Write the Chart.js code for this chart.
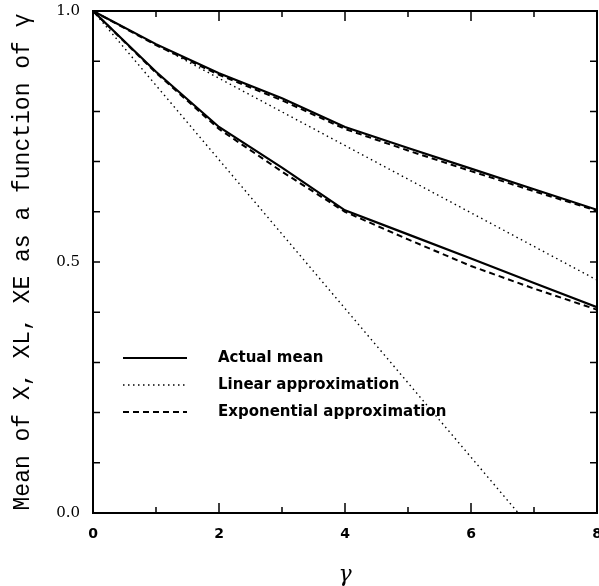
<!DOCTYPE html>
<html lang="en">
<head>
    <meta charset="UTF-8">
    <title>Mean of X, XL, XE</title>
    <script src="https://cdn.jsdelivr.net/npm/chart.js"></script>
    <style>
        body { margin: 0; background: #fff; }
        #wrap { width: 599px; height: 586px; }
    </style>
</head>
<body>
    <div id="wrap"><canvas id="meanChart"></canvas></div>
    <script>
        // values
        var gamma = [0, 1, 2, 3, 4, 5, 6, 7, 8];
        var upperActual = [1, 0.934, 0.876, 0.826, 0.769, 0.727, 0.686, 0.645, 0.604];
        var upperExp    = [1, 0.932, 0.873, 0.822, 0.765, 0.722, 0.681, 0.641, 0.602];
        var lowerActual = [1, 0.879, 0.769, 0.688, 0.603, 0.555, 0.507, 0.458, 0.410];
        var lowerExp    = [1, 0.877, 0.765, 0.680, 0.600, 0.545, 0.492, 0.447, 0.405];
        // straight lines: only their end points
        var upperLinX = [0, 8];
        var upperLinY = [1, 0.464];
        var lowerLinX = [0, 6.75];
        var lowerLinY = [1, 0];

        var legendLabels = ['Actual mean', 'Linear approximation', 'Exponential approximation'];

        function pts(xs, ys) {
            return xs.map(function (v, i) { return { x: v, y: ys[i] }; });
        }

        var solid = { borderColor: '#000', borderWidth: 2.2, borderDash: [] };
        var dotted = { borderColor: '#000', borderWidth: 1.4, borderDash: [1.5, 3.5] };
        var dashed = { borderColor: '#000', borderWidth: 2, borderDash: [6, 4] };

        function ds(data, style) {
            return Object.assign({ data: data, showLine: true, pointRadius: 0, tension: 0, fill: false }, style);
        }

        // frame, inward tick marks and the in-plot legend
        var framePlugin = {
            id: 'frame',
            afterDatasetsDraw: function (chart) {
                var ctx = chart.ctx, a = chart.chartArea;
                var x = chart.scales.x, y = chart.scales.y;
                ctx.save();
                ctx.strokeStyle = '#000';
                ctx.setLineDash([]);
                ctx.lineWidth = 2;
                ctx.strokeRect(a.left, a.top, a.right - a.left, a.bottom - a.top);

                ctx.lineWidth = 1.5;
                ctx.beginPath();
                x.ticks.forEach(function (t) {
                    var px = x.getPixelForValue(t.value);
                    var len = t.value % 2 === 0 ? 10 : 6;
                    ctx.moveTo(px, a.bottom); ctx.lineTo(px, a.bottom - len);
                    ctx.moveTo(px, a.top); ctx.lineTo(px, a.top + len);
                });
                y.ticks.forEach(function (t) {
                    var py = y.getPixelForValue(t.value);
                    ctx.moveTo(a.left, py); ctx.lineTo(a.left + 7, py);
                    ctx.moveTo(a.right, py); ctx.lineTo(a.right - 7, py);
                });
                ctx.stroke();

                // legend, styles taken from the datasets
                var rows = [358, 385, 412];
                var sets = chart.data.datasets;
                ctx.font = 'bold 15px "DejaVu Sans"';
                ctx.fillStyle = '#000';
                ctx.textBaseline = 'middle';
                legendLabels.forEach(function (lab, i) {
                    var d = sets[i * 2];
                    ctx.lineWidth = d.borderWidth;
                    ctx.setLineDash(d.borderDash);
                    ctx.beginPath();
                    ctx.moveTo(123, rows[i]);
                    ctx.lineTo(187, rows[i]);
                    ctx.stroke();
                    ctx.fillText(lab, 218, rows[i]);
                });
                ctx.restore();
            }
        };

        var ctx = document.getElementById('meanChart').getContext('2d');
        var meanChart = new Chart(ctx, {
            type: 'scatter',
            data: {
                datasets: [
                    ds(pts(gamma, upperActual), solid),
                    ds(pts(gamma, lowerActual), solid),
                    ds(pts(upperLinX, upperLinY), dotted),
                    ds(pts(lowerLinX, lowerLinY), dotted),
                    ds(pts(gamma, upperExp), dashed),
                    ds(pts(gamma, lowerExp), dashed)
                ]
            },
            options: {
                responsive: true,
                maintainAspectRatio: false,
                animation: false,
                layout: { padding: { top: 11, right: 2, left: 0, bottom: 0 } },
                plugins: {
                    legend: { display: false },
                    tooltip: { enabled: false }
                },
                scales: {
                    x: {
                        type: 'linear',
                        min: 0,
                        max: 8,
                        grid: { display: false },
                        border: { display: false },
                        ticks: {
                            stepSize: 1,
                            padding: 5,
                            color: '#000',
                            font: { family: 'DejaVu Sans', size: 14, weight: 'bold' },
                            maxRotation: 0,
                            autoSkip: false,
                            callback: function (v) { return v % 2 === 0 ? String(v) : ''; }
                        },
                        title: {
                            display: true,
                            text: 'γ',
                            color: '#000',
                            font: { family: 'DejaVu Serif', size: 22, style: 'italic', lineHeight: 1 },
                            padding: { top: 0, bottom: 0 }
                        },
                        afterFit: function (s) { s.height = 73; s.paddingRight = 0; s.paddingLeft = 0; }
                    },
                    y: {
                        min: 0,
                        max: 1,
                        grid: { display: false },
                        border: { display: false },
                        ticks: {
                            stepSize: 0.1,
                            padding: 5,
                            color: '#000',
                            font: { family: 'DejaVu Serif', size: 15 },
                            autoSkip: false,
                            callback: function (v) {
                                return Math.round(v * 10) % 5 === 0 ? v.toFixed(1) : '';
                            }
                        },
                        title: {
                            display: true,
                            text: 'Mean of X, XL, XE as a function of γ',
                            color: '#000',
                            font: { family: 'Liberation Mono', size: 23, lineHeight: 1.2 },
                            padding: { top: 9, bottom: 0 }
                        },
                        afterFit: function (s) { s.width = 93; s.paddingTop = 0; s.paddingBottom = 0; }
                    }
                }
            },
            plugins: [framePlugin]
        });
    </script>
</body>
</html>
